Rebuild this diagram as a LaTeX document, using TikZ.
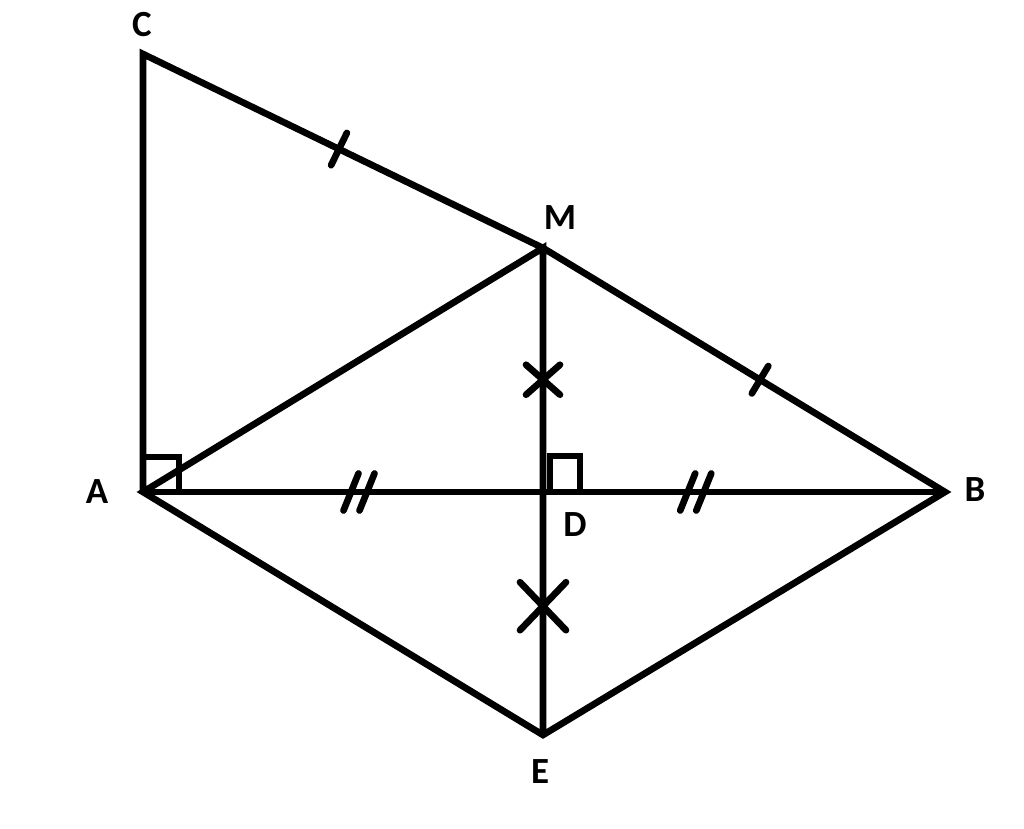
\documentclass[tikz,border=0pt]{standalone}
\usepackage{fontspec}
\setmainfont{Carlito}
\usetikzlibrary{calc}

\tikzset{
  edge/.style={line width=1.9pt, line join=miter},
  mark line/.style={line width=1.9pt, line cap=round},
  lbl/.style={font=\fontsize{10.5}{12}\selectfont\bfseries, inner sep=0pt}
}

\begin{document}
\begin{tikzpicture}
\useasboundingbox (0,0) rectangle (10.24,8.29);
\coordinate (C) at (1.43,7.75);
\coordinate (M) at (5.43,5.81);
\coordinate (A) at (1.43,3.37);
\coordinate (D) at (5.43,3.37);
\coordinate (B) at (9.45,3.37);
\coordinate (E) at (5.43,0.94);

% sides
\draw[edge] (A) -- (C) -- (M) -- (B) -- (E) -- (A) -- (M) -- (E);
\draw[edge] (A) -- (B);

% right angles
\draw[edge] (A) ++(0,0.35) -- ++(0.36,0) -- ++(0,-0.35);
\draw[edge] (D) ++(0.07,0) -- ++(0,0.36) -- ++(0.30,0) -- ++(0,-0.36);

% equal marks
\draw[mark line] ($(C)!0.49!(M)$) ++(64:0.18) -- ++(244:0.36);
\draw[mark line] ($(M)!0.54!(B)$) ++(59:0.16) -- ++(239:0.32);
\draw[mark line] ($(A)!0.52!(D)$) ++(68:0.2) -- ++(248:0.4);
\draw[mark line] ($(A)!0.56!(D)$) ++(68:0.2) -- ++(248:0.4);
\draw[mark line] ($(D)!0.36!(B)$) ++(68:0.2) -- ++(248:0.4);
\draw[mark line] ($(D)!0.40!(B)$) ++(68:0.2) -- ++(248:0.4);

% crosses
\draw[mark line] ($(M)!0.54!(D)$) ++(-0.17,0.15) -- ++(0.34,-0.30)
                 ($(M)!0.54!(D)$) ++(-0.17,-0.15) -- ++(0.34,0.30);
\draw[mark line] ($(D)!0.47!(E)$) ++(-0.23,0.24) -- ++(0.46,-0.48)
                 ($(D)!0.47!(E)$) ++(-0.23,-0.24) -- ++(0.46,0.48);

% labels
\node[lbl] (labC) at (1.42,8.04) {C};
\node[lbl] (labM) at (5.60,6.11) {M};
\node[lbl] (labA) at (0.97,3.37) {A};
\node[lbl] (labB) at (9.75,3.39) {B};
\node[lbl] (labD) at (5.75,3.04) {D};
\node[lbl] (labE) at (5.40,0.57) {E};
\end{tikzpicture}
\end{document}
